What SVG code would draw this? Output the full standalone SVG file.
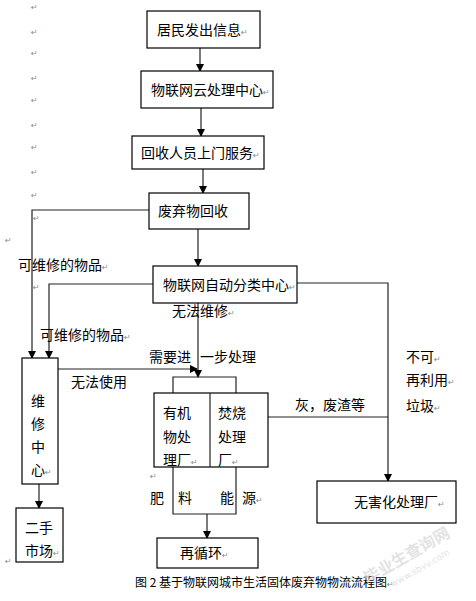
<svg xmlns="http://www.w3.org/2000/svg" width="476" height="601" viewBox="0 0 476 601">
<defs>
<marker id="ah" markerWidth="8" markerHeight="8" refX="7" refY="4" orient="auto" markerUnits="userSpaceOnUse">
<path d="M0,0 L8,4 L0,8 Z" fill="#000"/>
</marker>
<style>
.box{fill:#fff;stroke:#000;stroke-width:1.2}
.ln{fill:none;stroke:#222;stroke-width:1.2}
.t{font-family:"Noto Sans CJK SC","Noto Sans",sans-serif;font-size:14px;fill:#000}
.c{font-family:"Noto Sans CJK SC","Noto Sans",sans-serif;font-size:12px;fill:#000}
.pm{font-family:"DejaVu Sans",sans-serif;font-size:8px;fill:#888}
.wm{font-family:"Noto Sans CJK SC",sans-serif;font-size:16px;fill:#ddd;font-weight:bold}
</style>
</defs>
<rect width="476" height="601" fill="#fff"/>
<g id="marks">
<text class="pm" x="31" y="10">↵</text>
<text class="pm" x="31" y="35">↵</text>
<text class="pm" x="31" y="56">↵</text>
<text class="pm" x="31" y="81">↵</text>
<text class="pm" x="31" y="103">↵</text>
<text class="pm" x="31" y="128">↵</text>
<text class="pm" x="31" y="150">↵</text>
<text class="pm" x="31" y="175">↵</text>
<text class="pm" x="31" y="198">↵</text>
<text class="pm" x="33" y="221">↵</text>
<text class="pm" x="5" y="243">↵</text>
<text class="pm" x="33" y="290">↵</text>
<text class="pm" x="150" y="479">↵</text>
<text class="pm" x="5" y="564">↵</text>
</g>
<g id="connectors">
<line class="ln" x1="200" y1="48" x2="200" y2="71" marker-end="url(#ah)"/>
<line class="ln" x1="201" y1="108" x2="201" y2="136" marker-end="url(#ah)"/>
<line class="ln" x1="203" y1="169" x2="203" y2="193" marker-end="url(#ah)"/>
<line class="ln" x1="198" y1="229" x2="198" y2="266" marker-end="url(#ah)"/>
<polyline class="ln" points="149,210 32,210 32,358" marker-end="url(#ah)"/>
<polyline class="ln" points="153,284 49,284 49,358" marker-end="url(#ah)"/>
<polyline class="ln" points="297,283 388,283 388,481" marker-end="url(#ah)"/>
<line class="ln" x1="268" y1="417" x2="388" y2="417"/>
<line class="ln" x1="198" y1="303" x2="198" y2="377" marker-end="url(#ah)"/>
<polyline class="ln" points="173,393 173,377 236,377 236,393"/>
<line class="ln" x1="58" y1="369" x2="197" y2="369" marker-end="url(#ah)"/>
<line class="ln" x1="39" y1="484" x2="39" y2="508" marker-end="url(#ah)"/>
<polyline class="ln" points="173,467 173,514 236,514 236,467"/>
<line class="ln" x1="207" y1="514" x2="207" y2="538" marker-end="url(#ah)"/>
</g>
<g id="n1"><rect class="box" x="147" y="11" width="113" height="37"/><text class="t" x="157" y="35">居民发出信息<tspan class="pm">↵</tspan></text></g>
<g id="n2"><rect class="box" x="141" y="71" width="132" height="37"/><text class="t" x="151" y="95">物联网云处理中心<tspan class="pm">↵</tspan></text></g>
<g id="n3"><rect class="box" x="132" y="136" width="132" height="33"/><text class="t" x="141" y="158">回收人员上门服务<tspan class="pm">↵</tspan></text></g>
<g id="n4"><rect class="box" x="149" y="193" width="100" height="36"/><text class="t" x="158" y="216">废弃物回收</text></g>
<g id="n5"><rect class="box" x="153" y="266" width="144" height="37"/><text class="t" x="163" y="290">物联网自动分类中心<tspan class="pm">↵</tspan></text></g>
<g id="n6"><rect class="box" x="22" y="358" width="36" height="126"/>
<text class="t" x="31" y="406">维</text><text class="t" x="31" y="429">修</text><text class="t" x="31" y="452">中</text><text class="t" x="31" y="475">心<tspan class="pm">↵</tspan></text></g>
<g id="n7"><rect class="box" x="16" y="508" width="47" height="54"/>
<text class="t" x="25" y="533">二手</text><text class="t" x="25" y="556">市场<tspan class="pm">↵</tspan></text></g>
<g id="n8"><rect class="box" x="154" y="393" width="114" height="74"/><line class="ln" x1="210" y1="393" x2="210" y2="467"/>
<text class="t" x="163" y="418">有机</text><text class="t" x="163" y="442">物处</text><text class="t" x="163" y="465">理厂<tspan class="pm">↵</tspan></text>
<text class="t" x="218" y="418">焚烧</text><text class="t" x="218" y="442">处理</text><text class="t" x="218" y="465">厂<tspan class="pm">↵</tspan></text></g>
<g id="n9"><rect class="box" x="157" y="538" width="101" height="30"/><text class="t" x="180" y="558">再循环<tspan class="pm">↵</tspan></text></g>
<g id="n10"><rect class="box" x="317" y="481" width="139" height="42"/><text class="t" x="354" y="507">无害化处理厂<tspan class="pm">↵</tspan></text></g>
<g id="labels">
<text class="t" x="18" y="270">可维修的物品<tspan class="pm">↵</tspan></text>
<text class="t" x="40" y="340">可维修的物品<tspan class="pm">↵</tspan></text>
<text class="t" x="172" y="316">无法维修<tspan class="pm">↵</tspan></text>
<text class="t"><tspan x="149" y="362">需要进</tspan><tspan x="200" y="362">一步处理</tspan></text>
<text class="t" x="71" y="387">无法使用</text>
<text class="t" x="295" y="410">灰，废渣等</text>
<text class="t" x="406" y="362">不可<tspan class="pm">↵</tspan></text>
<text class="t" x="406" y="385">再利用<tspan class="pm">↵</tspan></text>
<text class="t" x="406" y="411">垃圾<tspan class="pm">↵</tspan></text>
<text class="t" x="150" y="503">肥</text>
<text class="t" x="178" y="503">料</text>
<text class="t" x="220" y="503">能</text>
<text class="t" x="242" y="503">源<tspan class="pm">↵</tspan></text>
<text class="c" x="135" y="587">图 2  基于物联网城市生活固体废弃物物流流程图<tspan class="pm">↵</tspan></text>
</g>
<g id="watermark" transform="rotate(-30 400 560)" opacity="0.8">
<text class="wm" x="360" y="565">毕业生查询网</text>
<text class="pm" x="380" y="580" style="font-size:9px;fill:#ddd">www.sbvv.com</text>
</g>
</svg>
